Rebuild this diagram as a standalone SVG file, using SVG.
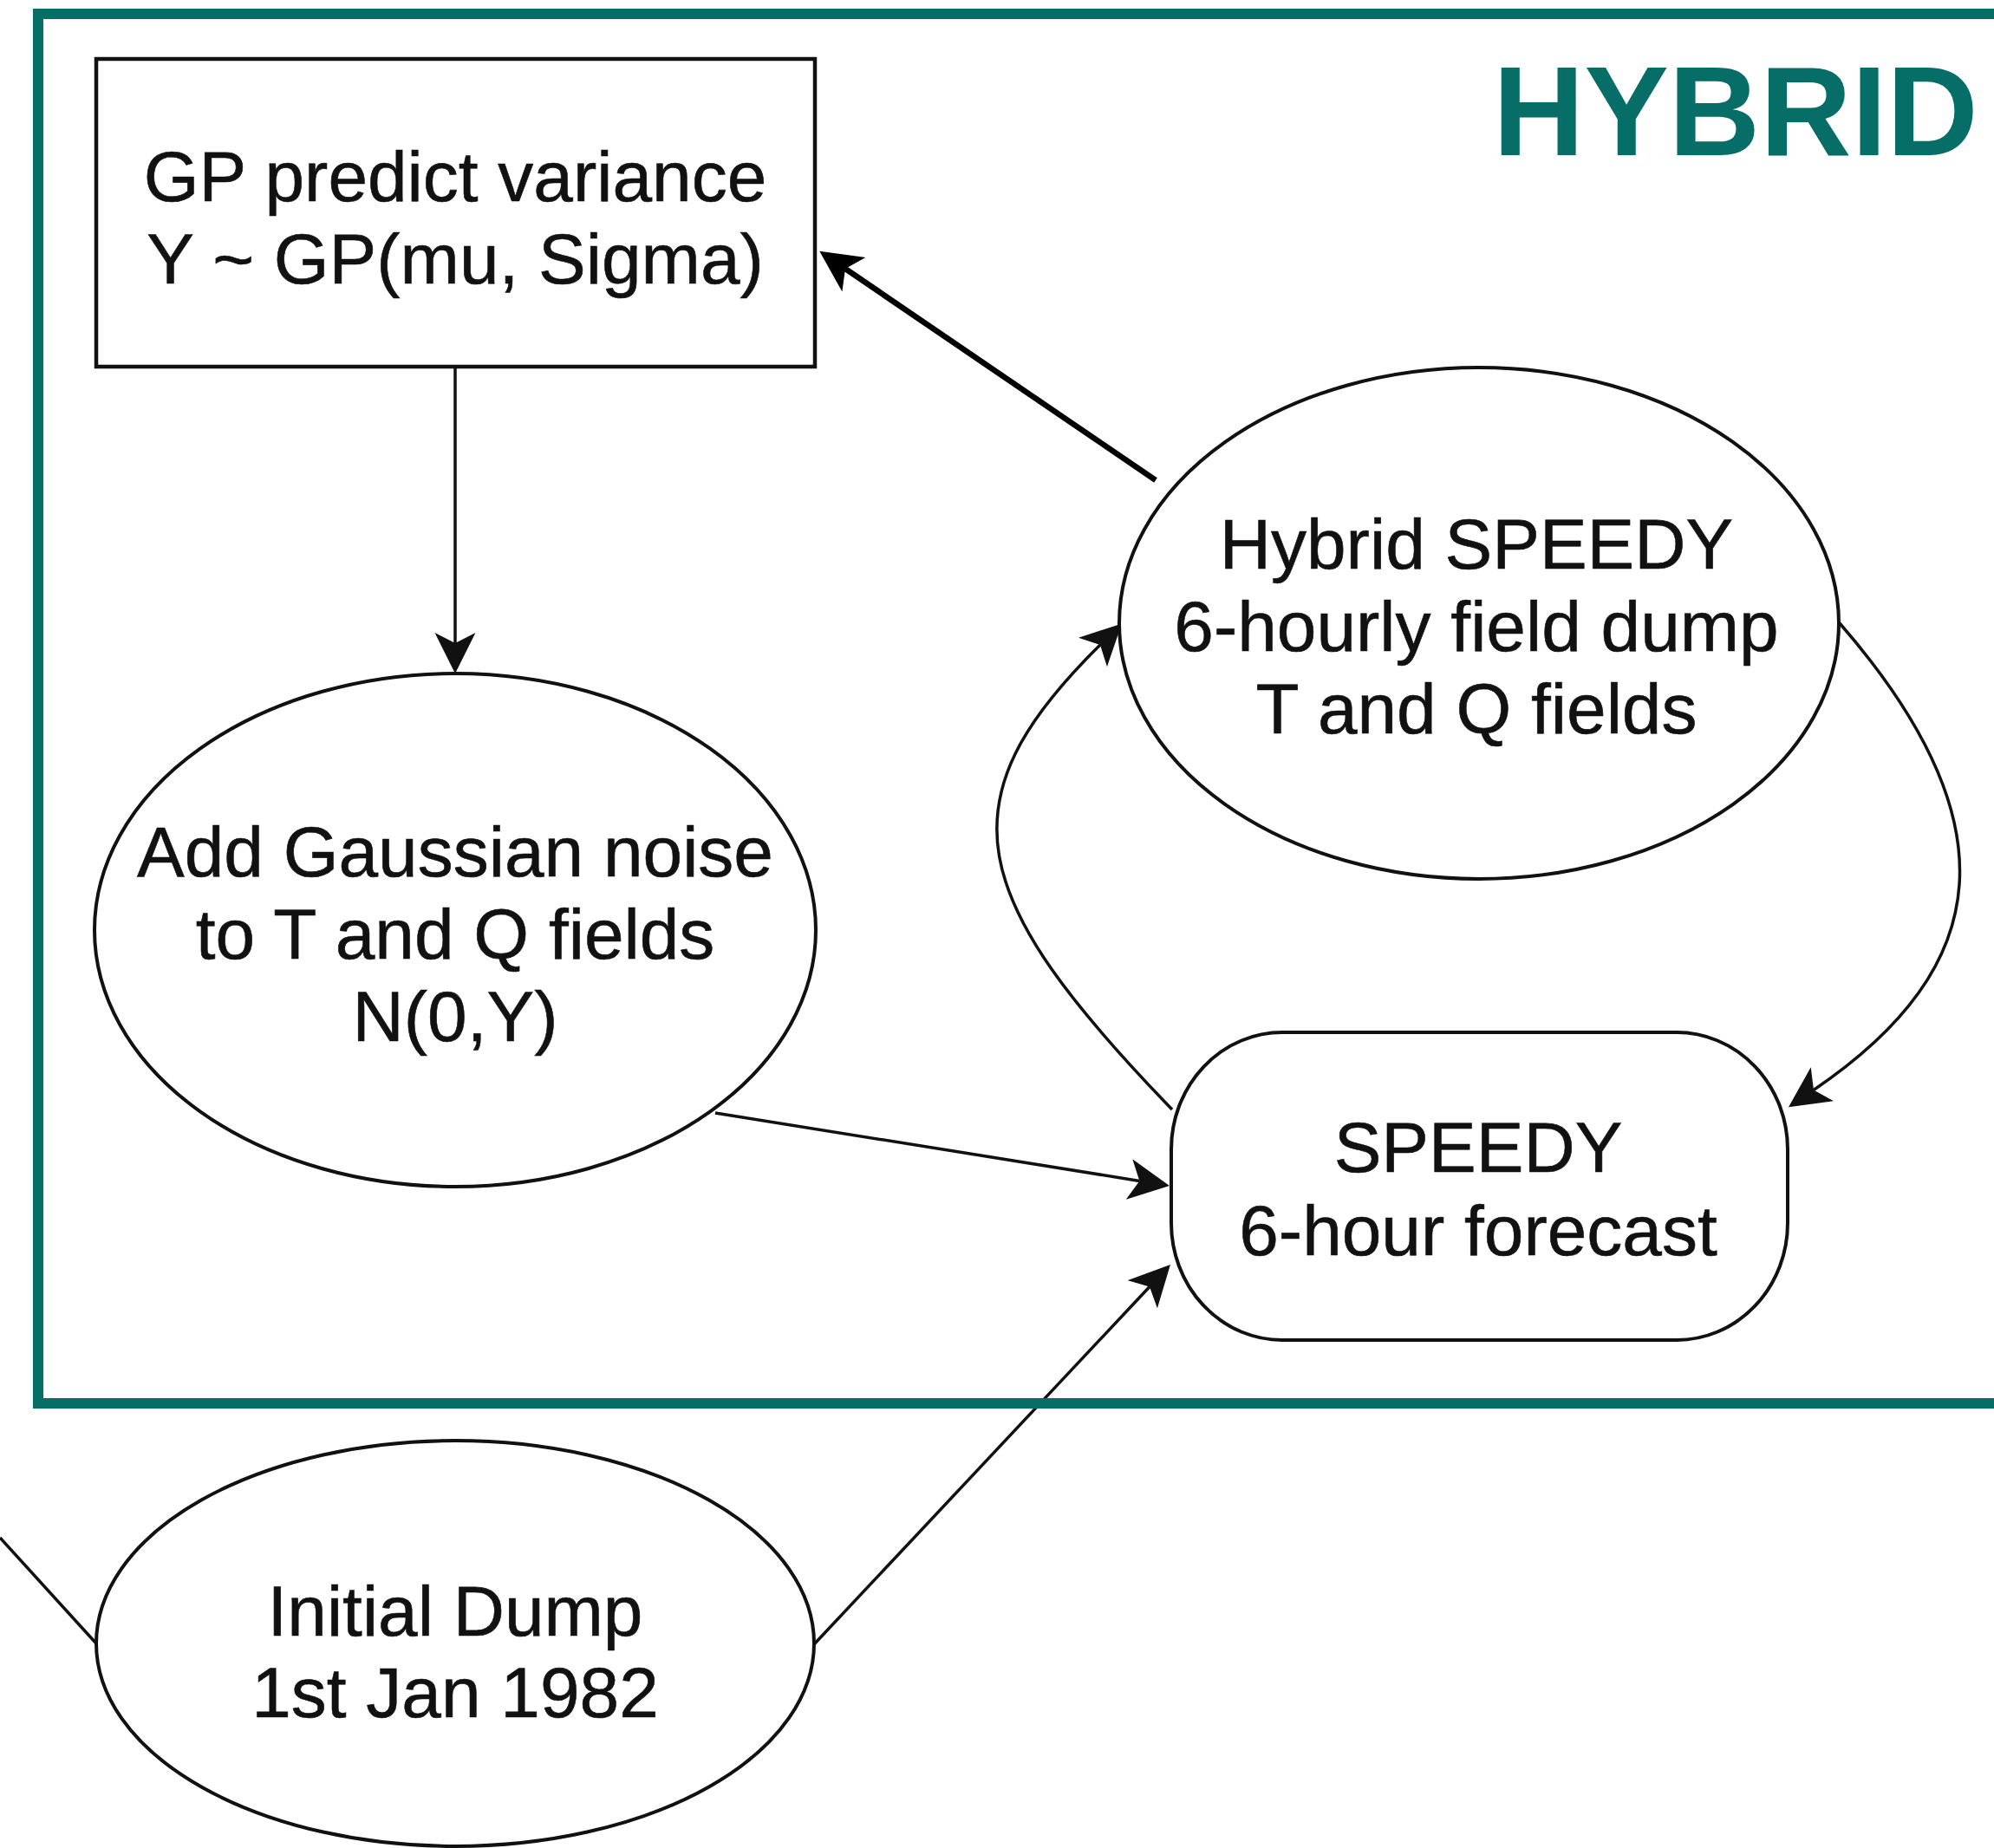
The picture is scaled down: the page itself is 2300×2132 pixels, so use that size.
<svg xmlns="http://www.w3.org/2000/svg" width="2300" height="2132" viewBox="0 0 2300 2132">
  <style>
    .shape { fill: #ffffff; stroke: #111111; stroke-width: 4; }
    .box { fill: #ffffff; stroke: #111111; stroke-width: 4.5; }
    .lbl { font-family: "Liberation Sans", Arial, Helvetica, sans-serif; font-size: 82px; fill: #111111; stroke: #111111; stroke-width: 0.6; text-anchor: middle; }
    .edge { fill: none; stroke: #111111; stroke-width: 3.5; }
    .edge-thick { fill: none; stroke: #000000; stroke-width: 6.5; }
    .frame { fill: none; stroke: #066e66; stroke-width: 12; }
    .title { font-family: "Liberation Sans", Arial, Helvetica, sans-serif; font-size: 146px; font-weight: bold; fill: #066e66; }
  </style>
  <defs>
    <marker id="arrow" markerUnits="userSpaceOnUse" markerWidth="48" markerHeight="48" viewBox="0 0 48 48" refX="12" refY="24" orient="auto">
      <path d="M47,24 L0,0.5 L12,24 L0,47.5 Z" fill="#111111"/>
    </marker>
    <marker id="arrowThick" markerUnits="userSpaceOnUse" markerWidth="50" markerHeight="50" viewBox="0 0 50 50" refX="12" refY="25" orient="auto">
      <path d="M48,25 L0,1 L12,25 L0,49 Z" fill="#000000"/>
    </marker>
  </defs>

  <rect width="2300" height="2132" fill="#ffffff"/>

  <g id="connectors">
    <line class="edge" x1="525" y1="424" x2="525" y2="742" marker-end="url(#arrow)"/>
    <line class="edge-thick" x1="1333" y1="554" x2="975" y2="310" marker-end="url(#arrowThick)"/>
    <line class="edge" x1="825" y1="1284" x2="1314.4" y2="1362.4" marker-end="url(#arrow)"/>
    <line class="edge" x1="939" y1="1897" x2="1326" y2="1484.5" marker-end="url(#arrow)"/>
    <line class="edge" x1="0" y1="1774" x2="111" y2="1896"/>
    <path class="edge" d="M1352,1280 C1115,1035 1085,925 1269,744" marker-end="url(#arrow)"/>
    <path class="edge" d="M2122,719 C2320,947 2302,1115 2092,1257.5" marker-end="url(#arrow)"/>
  </g>

  <g id="node-gp">
    <rect class="box" x="111" y="68" width="829" height="355"/>
    <text class="lbl" x="525" y="232">GP predict variance</text>
    <text class="lbl" x="525" y="327">Y ~ GP(mu, Sigma)</text>
  </g>

  <g id="node-noise">
    <ellipse class="shape" cx="525" cy="1073" rx="416" ry="296"/>
    <text class="lbl" x="525" y="1011">Add Gaussian noise</text>
    <text class="lbl" x="525" y="1106">to T and Q fields</text>
    <text class="lbl" x="525" y="1201">N(0,Y)</text>
  </g>

  <g id="node-hybrid">
    <ellipse class="shape" cx="1706" cy="719" rx="415" ry="295"/>
    <text class="lbl" x="1703" y="656">Hybrid SPEEDY</text>
    <text class="lbl" x="1703" y="751">6-hourly field dump</text>
    <text class="lbl" x="1703" y="846">T and Q fields</text>
  </g>

  <g id="node-speedy">
    <rect class="shape" x="1351" y="1191" width="711" height="355" rx="128" ry="135"/>
    <text class="lbl" x="1705" y="1352">SPEEDY</text>
    <text class="lbl" x="1705" y="1448">6-hour forecast</text>
  </g>

  <g id="node-initial">
    <ellipse class="shape" cx="525" cy="1896" rx="414" ry="234"/>
    <text class="lbl" x="525" y="1887">Initial Dump</text>
    <text class="lbl" x="525" y="1981">1st Jan 1982</text>
  </g>

  <g id="hybrid-frame">
    <rect class="frame" x="44" y="16" width="2400" height="1603"/>
    <text class="title" x="1722" y="179">HYBRID</text>
  </g>
</svg>
